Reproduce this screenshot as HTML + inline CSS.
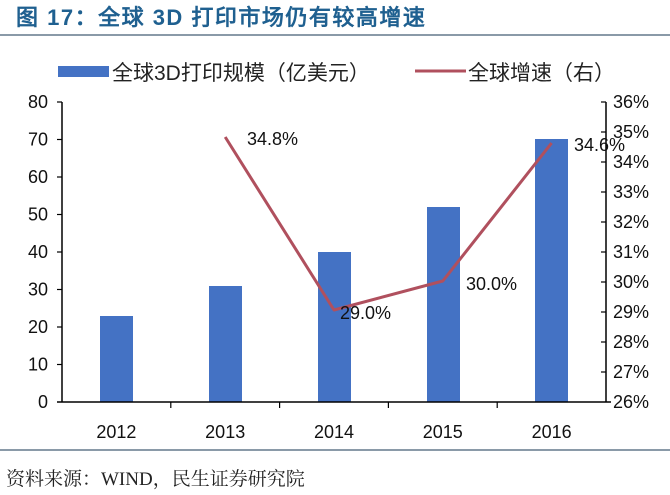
<!DOCTYPE html>
<html><head><meta charset="utf-8"><style>
body{margin:0;width:670px;height:495px;background:#fff;overflow:hidden}
svg{display:block}
</style></head><body>
<svg width="670" height="495" xmlns="http://www.w3.org/2000/svg" font-family="Liberation Sans, Noto Sans CJK SC, sans-serif">
<text x="16" y="25" font-size="22" font-weight="bold" fill="#1f6090" font-family="Liberation Sans, WenQuanYi Zen Hei, sans-serif" letter-spacing="1.5">图 17：全球 3D 打印市场仍有较高增速</text>
<line x1="0" y1="35" x2="670" y2="35" stroke="#8a9aa8" stroke-width="2"/>
<rect x="58" y="66" width="51" height="11" fill="#4472c4"/>
<text x="112" y="80" font-size="21" fill="#222">全球3D打印规模（亿美元）</text>
<line x1="415" y1="71" x2="466" y2="71" stroke="#b0505e" stroke-width="3"/>
<text x="468" y="80" font-size="21" fill="#222">全球增速（右）</text>
<g fill="#4472c4">
<rect x="100" y="316" width="33" height="86"/>
<rect x="209" y="286" width="33" height="116"/>
<rect x="318" y="252" width="33" height="150"/>
<rect x="427" y="207" width="33" height="195"/>
<rect x="535" y="139" width="33" height="263"/>
</g>
<g stroke="#000" stroke-width="1.5" fill="none">
<line x1="62" y1="102" x2="62" y2="402"/>
<line x1="606" y1="102" x2="606" y2="402"/>
<line x1="57" y1="402" x2="611" y2="402"/>
</g>
<g stroke="#000" stroke-width="1.2">
<line x1="57" y1="102" x2="62" y2="102"/><line x1="57" y1="139.5" x2="62" y2="139.5"/><line x1="57" y1="177" x2="62" y2="177"/><line x1="57" y1="214.5" x2="62" y2="214.5"/><line x1="57" y1="252" x2="62" y2="252"/><line x1="57" y1="289.5" x2="62" y2="289.5"/><line x1="57" y1="327" x2="62" y2="327"/><line x1="57" y1="364.5" x2="62" y2="364.5"/>
<line x1="601" y1="102" x2="606" y2="102"/><line x1="601" y1="132" x2="606" y2="132"/><line x1="601" y1="162" x2="606" y2="162"/><line x1="601" y1="192" x2="606" y2="192"/><line x1="601" y1="222" x2="606" y2="222"/><line x1="601" y1="252" x2="606" y2="252"/><line x1="601" y1="282" x2="606" y2="282"/><line x1="601" y1="312" x2="606" y2="312"/><line x1="601" y1="342" x2="606" y2="342"/><line x1="601" y1="372" x2="606" y2="372"/>
<line x1="170.8" y1="402" x2="170.8" y2="408"/><line x1="279.6" y1="402" x2="279.6" y2="408"/><line x1="388.4" y1="402" x2="388.4" y2="408"/><line x1="497.2" y1="402" x2="497.2" y2="408"/>
</g>
<g font-size="18" fill="#111" text-anchor="end">
<text x="48" y="108">80</text><text x="48" y="145.5">70</text><text x="48" y="183">60</text><text x="48" y="220.5">50</text><text x="48" y="258">40</text><text x="48" y="295.5">30</text><text x="48" y="333">20</text><text x="48" y="370.5">10</text><text x="48" y="408">0</text>
</g>
<g font-size="18" fill="#111">
<text x="613" y="108">36%</text><text x="613" y="138">35%</text><text x="613" y="168">34%</text><text x="613" y="198">33%</text><text x="613" y="228">32%</text><text x="613" y="258">31%</text><text x="613" y="288">30%</text><text x="613" y="318">29%</text><text x="613" y="348">28%</text><text x="613" y="378">27%</text><text x="613" y="408">26%</text>
</g>
<g font-size="18" fill="#111" text-anchor="middle">
<text x="116.4" y="438">2012</text><text x="225.2" y="438">2013</text><text x="334" y="438">2014</text><text x="442.8" y="438">2015</text><text x="551.6" y="438">2016</text>
</g>
<polyline points="225.2,137 334,310 442.8,281 551.6,143" fill="none" stroke="#b0505e" stroke-width="3" stroke-linejoin="round"/>
<g font-size="18" fill="#111">
<text x="247" y="145">34.8%</text>
<text x="340" y="319">29.0%</text>
<text x="466" y="290">30.0%</text>
<text x="574" y="151">34.6%</text>
</g>
<line x1="0" y1="450" x2="670" y2="450" stroke="#8a9aa8" stroke-width="2"/>
<text x="6" y="485" font-size="19" fill="#222" font-family="Liberation Serif, Noto Serif CJK SC, serif">资料来源：WIND，民生证券研究院</text>
</svg>
</body></html>
